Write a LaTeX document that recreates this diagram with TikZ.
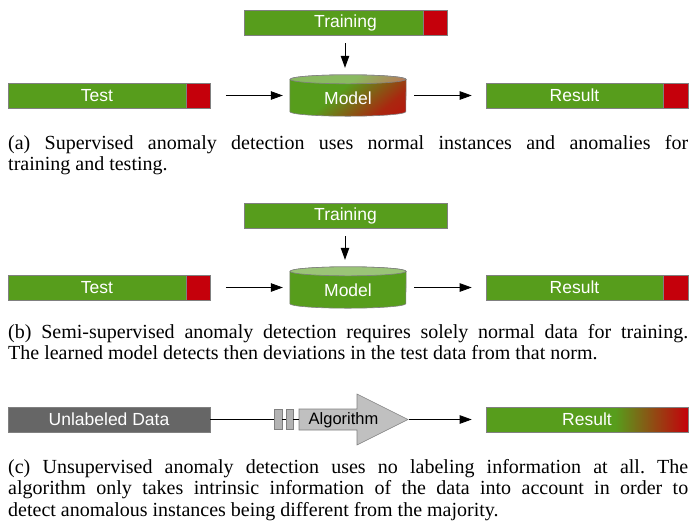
\documentclass[tikz,border=0pt]{standalone}
\usepackage{fontspec}
\setmainfont{Liberation Serif}
\setsansfont{Liberation Sans}
\usetikzlibrary{arrows.meta, positioning, backgrounds}
\definecolor{bargreen}{HTML}{579D1C}
\definecolor{barred}{HTML}{C5000B}
\definecolor{bargray}{HTML}{666666}
\definecolor{edgegray}{HTML}{808080}
\definecolor{algogray}{HTML}{C0C0C0}
\definecolor{gatefill}{HTML}{B3B3B3}
\colorlet{cyltop}{bargreen!60!white}
\pgfdeclarehorizontalshading{modelshade}{100bp}{color(0bp)=(bargreen); color(44bp)=(bargreen); color(72bp)=(barred!75!bargreen); color(100bp)=(barred)}
\pgfdeclarehorizontalshading{resultshade}{100bp}{color(0bp)=(bargreen); color(57bp)=(bargreen); color(75bp)=(barred); color(100bp)=(barred)}
\tolerance=9999
\hbadness=10000
\frenchspacing

\begin{document}
\begin{tikzpicture}[
		x=1pt, y=1pt,
		bar/.style={draw=edgegray, line width=0.6pt, minimum height=25pt, inner sep=0pt, text=white, font=\sffamily\fontsize{17.5}{20}\selectfont},
		greenbar/.style={bar, fill=bargreen},
		redbar/.style={bar, fill=barred, minimum width=24pt},
		graybar/.style={bar, fill=bargray},
		shadebar/.style={bar, shade, shading=resultshade},
		cylnode/.style={minimum width=116pt, minimum height=41pt, inner sep=0pt},
		cyllabel/.style={text=white, font=\sffamily\fontsize{17.5}{20}\selectfont, yshift=-2.5pt},
		cylline/.style={draw=edgegray, line width=0.6pt},
		gate/.style={draw=edgegray, line width=0.6pt, fill=gatefill, minimum width=8pt, minimum height=20pt, inner sep=0pt},
		algoshape/.style={draw=edgegray, line width=0.6pt, fill=algogray},
		algotext/.style={font=\sffamily\fontsize{16.5}{19}\selectfont, inner sep=0pt},
		caption/.style={anchor=north west, text width=680pt, align=justify, inner sep=0pt, font=\fontsize{20}{21.5}\selectfont},
		link/.style={line width=0.8pt},
		arrow/.style={link, -{Triangle[length=12pt, width=8.5pt]}, shorten <=8pt, shorten >=7pt}
	]
	\useasboundingbox (0,0) rectangle (690,-531);

	% (a) supervised
	\node[greenbar, minimum width=203pt] (traina) at (345.5,-22.5) {Training};
	\node[redbar, anchor=east] (trainaR) at (traina.east) {};
	\node[greenbar, minimum width=178pt] (testa) at (97,-95.5) {Test};
	\node[redbar, right=0pt of testa] (testaR) {};
	\node[cylnode, label={[cyllabel]center:Model}] (modela) at (348,-95.5) {};
	\node[greenbar, minimum width=177pt] (resa) at (574.5,-95.5) {Result};
	\node[redbar, minimum width=25pt, right=0pt of resa] (resaR) {};
	\begin{scope}[on background layer]
		\path[cylline, shade, shading=modelshade, shading angle=-50]
			([yshift=-4.5pt]modela.north west) -- ([yshift=4.5pt]modela.south west)
			arc[start angle=180, end angle=360, x radius=58pt, y radius=4.5pt]
			-- ([yshift=-4.5pt]modela.north east)
			arc[start angle=0, end angle=180, x radius=58pt, y radius=4.5pt] -- cycle;
		\fill[white, opacity=.3] ([yshift=-4.5pt]modela.north) ellipse[x radius=58pt, y radius=4.5pt];
		\draw[cylline] ([yshift=-4.5pt]modela.north) ellipse[x radius=58pt, y radius=4.5pt];
	\end{scope}
	\draw[arrow] (traina.south -| 345,0) -- (modela.north -| 345,0);
	\draw[arrow, shorten <=15pt] (testaR) -- (modela);
	\draw[arrow, shorten >=14pt] (modela) -- (resa);
	\node[caption] (capa) at (8,-135) {(a) Supervised anomaly detection uses normal instances and anomalies for\linebreak training and testing.};

	% (b) semi-supervised
	\node[greenbar, minimum width=203pt] (trainb) at (345.5,-215.5) {Training};
	\node[greenbar, minimum width=178pt] (testb) at (97,-287.5) {Test};
	\node[redbar, right=0pt of testb] (testbR) {};
	\node[cylnode, label={[cyllabel]center:Model}] (modelb) at (348,-287.5) {};
	\node[greenbar, minimum width=177pt] (resb) at (574.5,-287.5) {Result};
	\node[redbar, minimum width=25pt, right=0pt of resb] (resbR) {};
	\begin{scope}[on background layer]
		\path[cylline, fill=bargreen]
			([yshift=-4.5pt]modelb.north west) -- ([yshift=4.5pt]modelb.south west)
			arc[start angle=180, end angle=360, x radius=58pt, y radius=4.5pt]
			-- ([yshift=-4.5pt]modelb.north east)
			arc[start angle=0, end angle=180, x radius=58pt, y radius=4.5pt] -- cycle;
		\draw[cylline, fill=cyltop] ([yshift=-4.5pt]modelb.north) ellipse[x radius=58pt, y radius=4.5pt];
	\end{scope}
	\draw[arrow] (trainb.south -| 345,0) -- (modelb.north -| 345,0);
	\draw[arrow, shorten <=15pt] (testbR) -- (modelb);
	\draw[arrow, shorten >=14pt] (modelb) -- (resb);
	\node[caption] (capb) at (8,-324) {(b) Semi-supervised anomaly detection requires solely normal data for training.\linebreak The learned model detects then deviations in the test data from that norm.};

	% (c) unsupervised
	\node[graybar, minimum width=202pt] (unlab) at (109,-419.5) {Unlabeled Data};
	\node[gate] (gatea) at (278,-419.5) {};
	\node[gate, minimum width=7pt] (gateb) at (289.5,-419.5) {};
	\coordinate (algotail) at (299,-419.5);
	\coordinate (algotip) at (408,-419.5);
	\filldraw[algoshape] (299,-409) -- (357,-409) -- (357,-394) -- (algotip)
		-- (357,-445) -- (357,-430) -- (299,-430) -- cycle;
	\node[algotext] (algo) at (343.5,-420) {Algorithm};
	\node[shadebar, minimum width=202pt] (resc) at (587,-419.5) {Result};
	\draw[link] (unlab) -- (gatea);
	\draw[link] (gatea) -- (gateb);
	\draw[link] (gateb) -- (algotail);
	\draw[arrow, shorten <=1pt, shorten >=14pt] (algotip) -- (resc);
	\node[caption] (capc) at (8,-459) {(c) Unsupervised anomaly detection uses no labeling information at all. The\linebreak algorithm only takes intrinsic information of the data into account in order to\linebreak detect anomalous instances being different from the majority.};
\end{tikzpicture}
\end{document}
